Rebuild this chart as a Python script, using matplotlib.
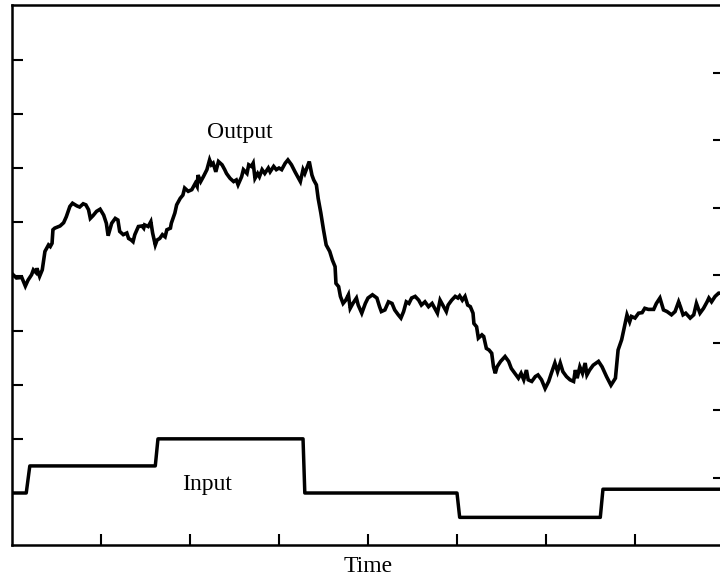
import matplotlib
matplotlib.use("Agg")
import matplotlib.pyplot as plt

# Measured response of the process (time, output)
out_time = [
    0.00, 0.05, 0.11, 0.15, 0.18, 0.22, 0.24, 0.27, 0.28, 0.31,
    0.34, 0.37, 0.41, 0.43, 0.45, 0.46, 0.48, 0.54, 0.58, 0.61,
    0.65, 0.68, 0.73, 0.76, 0.80, 0.83, 0.86, 0.88, 0.91, 0.95,
    0.99, 1.03, 1.06, 1.08, 1.12, 1.16, 1.19, 1.21, 1.25, 1.29,
    1.31, 1.34, 1.36, 1.38, 1.42, 1.46, 1.48, 1.49, 1.53, 1.56,
    1.58, 1.61, 1.63, 1.66, 1.69, 1.72, 1.74, 1.78, 1.79, 1.83,
    1.85, 1.89, 1.92, 1.94, 1.98, 2.02, 2.06, 2.08, 2.09, 2.12,
    2.15, 2.19, 2.22, 2.24, 2.26, 2.29, 2.32, 2.36, 2.39, 2.41,
    2.45, 2.49, 2.52, 2.54, 2.58, 2.60, 2.64, 2.66, 2.69, 2.71,
    2.73, 2.76, 2.78, 2.81, 2.84, 2.88, 2.90, 2.94, 2.97, 3.00,
    3.03, 3.07, 3.10, 3.14, 3.18, 3.24, 3.27, 3.29, 3.34, 3.37,
    3.39, 3.42, 3.44, 3.47, 3.50, 3.53, 3.57, 3.60, 3.63, 3.64,
    3.67, 3.69, 3.72, 3.75, 3.78, 3.80, 3.83, 3.87, 3.89, 3.93,
    3.97, 4.00, 4.05, 4.10, 4.13, 4.15, 4.19, 4.23, 4.27, 4.30,
    4.34, 4.37, 4.40, 4.43, 4.46, 4.49, 4.53, 4.57, 4.60, 4.64,
    4.68, 4.72, 4.75, 4.78, 4.81, 4.85, 4.88, 4.90, 4.94, 4.98,
    5.01, 5.03, 5.06, 5.09, 5.12, 5.15, 5.18, 5.19, 5.22, 5.24,
    5.28, 5.30, 5.33, 5.36, 5.39, 5.41, 5.43, 5.45, 5.49, 5.54,
    5.58, 5.61, 5.65, 5.69, 5.72, 5.75, 5.78, 5.80, 5.84, 5.88,
    5.91, 5.95, 5.99, 6.03, 6.06, 6.10, 6.13, 6.16, 6.19, 6.23,
    6.27, 6.31, 6.33, 6.35, 6.38, 6.41, 6.44, 6.46, 6.49, 6.53,
    6.59, 6.63, 6.68, 6.73, 6.78, 6.81, 6.85, 6.91, 6.94, 6.96,
    7.00, 7.04, 7.08, 7.11, 7.15, 7.21, 7.24, 7.28, 7.32, 7.36,
    7.41, 7.45, 7.49, 7.51, 7.54, 7.57, 7.62, 7.66, 7.69, 7.73,
    7.77, 7.81, 7.83, 7.86, 7.90, 7.94, 7.98,
]
out_value = [
    4.05, 3.97, 3.98, 3.82, 3.93, 4.03, 4.12, 4.07, 4.15, 4.00,
    4.12, 4.46, 4.58, 4.55, 4.61, 4.86, 4.89, 4.93, 4.99, 5.10,
    5.29, 5.35, 5.30, 5.28, 5.34, 5.32, 5.23, 5.07, 5.12, 5.20,
    5.24, 5.13, 4.98, 4.75, 4.98, 5.07, 5.04, 4.83, 4.77, 4.80,
    4.70, 4.67, 4.64, 4.77, 4.92, 4.93, 4.89, 4.95, 4.92, 5.01,
    4.80, 4.58, 4.67, 4.70, 4.77, 4.73, 4.86, 4.89, 4.98, 5.17,
    5.32, 5.44, 5.50, 5.63, 5.57, 5.60, 5.72, 5.66, 5.87, 5.75,
    5.84, 5.97, 6.15, 6.06, 6.09, 5.93, 6.12, 6.06, 5.97, 5.90,
    5.81, 5.75, 5.78, 5.69, 5.84, 5.97, 5.90, 6.06, 6.03, 6.09,
    5.81, 5.90, 5.84, 5.97, 5.90, 6.00, 5.93, 6.03, 5.97, 6.00,
    5.97, 6.09, 6.15, 6.06, 5.93, 5.75, 5.97, 5.90, 6.12, 5.87,
    5.78, 5.69, 5.44, 5.17, 4.86, 4.58, 4.46, 4.30, 4.18, 3.87,
    3.81, 3.63, 3.50, 3.56, 3.66, 3.41, 3.50, 3.60, 3.47, 3.32,
    3.50, 3.60, 3.66, 3.60, 3.44, 3.35, 3.38, 3.53, 3.50, 3.38,
    3.29, 3.23, 3.35, 3.53, 3.50, 3.60, 3.63, 3.56, 3.47, 3.53,
    3.44, 3.50, 3.41, 3.32, 3.56, 3.44, 3.35, 3.47, 3.56, 3.63,
    3.60, 3.64, 3.56, 3.63, 3.47, 3.44, 3.32, 3.13, 3.07, 2.86,
    2.92, 2.89, 2.67, 2.64, 2.58, 2.33, 2.21, 2.33, 2.43, 2.52,
    2.43, 2.30, 2.21, 2.12, 2.21, 2.09, 2.27, 2.09, 2.06, 2.15,
    2.18, 2.09, 1.93, 2.06, 2.21, 2.40, 2.24, 2.40, 2.24, 2.15,
    2.09, 2.06, 2.27, 2.12, 2.33, 2.21, 2.40, 2.18, 2.27, 2.36,
    2.43, 2.33, 2.15, 1.99, 2.12, 2.64, 2.83, 3.29, 3.16, 3.26,
    3.23, 3.32, 3.33, 3.41, 3.39, 3.39, 3.50, 3.60, 3.38, 3.35,
    3.29, 3.35, 3.53, 3.44, 3.29, 3.32, 3.23, 3.29, 3.50, 3.32,
    3.41, 3.53, 3.60, 3.53, 3.63, 3.69, 3.69,
]

# Step changes applied to the input
in_time = [0.00, 0.16, 0.20, 1.61, 1.64, 3.27, 3.29, 5.00, 5.03, 6.61, 6.64, 8.00]
in_value = [0.00, 0.00, 0.50, 0.50, 1.00, 1.00, 0.00, 0.00, -0.45, -0.45, 0.07, 0.07]

time_ticks = [1, 2, 3, 4, 5, 6, 7]
left_ticks = [1, 2, 3, 4, 5, 6, 7, 8]
right_ticks = [1, 2, 3, 4, 5, 6, 7]

serif = ["Liberation Serif", "DejaVu Serif"]

fig = plt.figure(figsize=(7.2, 5.8), dpi=100)
ax = fig.add_axes([12 / 720, 35 / 580, 712 / 720, 540 / 580])

ax.plot(out_time, out_value, color="black", lw=2.6, solid_joinstyle="miter")
ax.plot(in_time, in_value, color="black", lw=2.5)

ax.set_xlim(0, 8)
ax.set_ylim(-0.96, 9.01)
ax.set_xticks(time_ticks)
ax.set_yticks(left_ticks)
ax.tick_params(axis="both", direction="in", length=8, width=1.5,
               labelbottom=False, labelleft=False)
for sp in ax.spines.values():
    sp.set_linewidth(1.8)

ax2 = ax.twinx()
ax2.set_ylim(0, 8)
ax2.set_yticks(right_ticks)
ax2.tick_params(axis="y", direction="in", length=8, width=1.5, labelright=False)
for sp in ax2.spines.values():
    sp.set_visible(False)

ax.text(2.56, 6.65, "Output", ha="center", va="center", fontsize=17, family=serif)
ax.text(2.19, 0.15, "Input", ha="center", va="center", fontsize=17, family=serif)
ax.set_xlabel("Time", fontsize=17, family=serif, labelpad=8)

fig.savefig("out.png", dpi=100)
